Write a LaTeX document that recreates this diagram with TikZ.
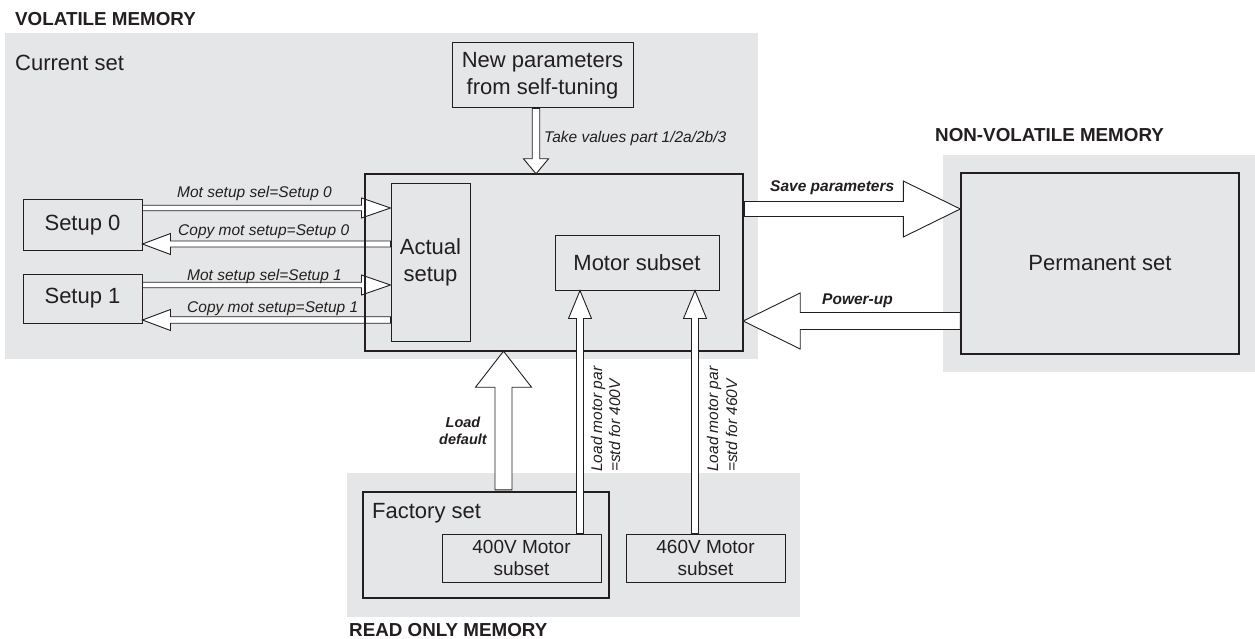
\documentclass[tikz,border=0pt]{standalone}
\usepackage{fontspec}
\setmainfont{Liberation Sans}
\usetikzlibrary{calc}
\definecolor{bg}{HTML}{E5E6E7}
\definecolor{linec}{HTML}{231F20}
\definecolor{txt}{HTML}{231F20}

% horizontal block arrow: #1 start, #2 end (only x used), #3 shaft half width, #4 head half width, #5 head length
\newcommand\hbarrow[5]{%
  \draw[barrow] let \p1=#1, \p2=#2, \n1={(\x2>\x1)?1:-1} in
    (\x1,{\y1+#3pt}) -- ({\x2-(\n1)*#5pt},{\y1+#3pt}) -- ({\x2-(\n1)*#5pt},{\y1+#4pt}) -- (\x2,\y1)
    -- ({\x2-(\n1)*#5pt},{\y1-#4pt}) -- ({\x2-(\n1)*#5pt},{\y1-#3pt}) -- (\x1,{\y1-#3pt}) -- cycle;}
% vertical block arrow
\newcommand\vbarrow[5]{%
  \draw[barrow] let \p1=#1, \p2=#2, \n1={(\y2>\y1)?1:-1} in
    ({\x1+#3pt},\y1) -- ({\x1+#3pt},{\y2-(\n1)*#5pt}) -- ({\x1+#4pt},{\y2-(\n1)*#5pt}) -- (\x1,\y2)
    -- ({\x1-#4pt},{\y2-(\n1)*#5pt}) -- ({\x1-#3pt},{\y2-(\n1)*#5pt}) -- ({\x1-#3pt},\y1) -- cycle;}

\begin{document}
\begin{tikzpicture}[x=1pt,y=-1pt,
  box/.style={draw=linec, line width=1pt, fill=bg, inner sep=0pt, text=txt,
              font=\fontsize{22}{27}\selectfont, align=center},
  thickbox/.style={box, line width=2.2pt},
  smallbox/.style={box, font=\fontsize{19}{21.5}\selectfont},
  big/.style={font=\fontsize{22}{27}\selectfont, text=txt, inner sep=0pt},
  head/.style={font=\fontsize{18.8}{22}\selectfont\bfseries, text=txt, inner sep=0pt},
  lab/.style={font=\fontsize{15.5}{18}\selectfont\itshape, text=txt, inner sep=0pt},
  blab/.style={font=\fontsize{15.5}{18}\selectfont\bfseries\itshape, text=txt, inner sep=0pt},
  sblab/.style={font=\fontsize{14.5}{17}\selectfont\bfseries\itshape, text=txt, inner sep=0pt},
  barrow/.style={draw=linec, fill=white, line width=0.9pt, line join=miter}]
\useasboundingbox (0,0) rectangle (1255,639);
\fill[white] (0,0) rectangle (1255,639);
% memory regions
\fill[bg] (5,33) rectangle (758,359);
\fill[bg] (943,155) rectangle (1255,372);
\fill[bg] (347,473) rectangle (800,617);
\node[head, anchor=base west] (hvol) at (15,26) {VOLATILE MEMORY};
\node[head, anchor=base west] (hnv) at (935,142) {NON-VOLATILE MEMORY};
\node[head, anchor=base west] (hrom) at (349,636) {READ ONLY MEMORY};
\node[big, anchor=base west] (cur) at (15,71) {Current set};

% boxes
\node[box, minimum width=181pt, minimum height=65pt] (newp) at (542.5,75.5) {New parameters\\from self-tuning};
\node[box, minimum width=79pt, minimum height=157pt] (actual) at (430.5,262.5) {Actual\\setup};
\node[box, minimum width=164pt, minimum height=55pt] (motor) at (637,262.5) {Motor subset};
\node[box, minimum width=119pt, minimum height=50pt] (setup0) at (82.5,225) {Setup 0};
\node[box, minimum width=119pt, minimum height=49pt] (setup1) at (82.5,298.5) {Setup 1};
\node[box, line width=1.4pt, minimum width=278pt, minimum height=181pt] (perm) at (1100,263.5) {Permanent set};
\node[thickbox, minimum width=246pt, minimum height=106pt] (factory) at (486,545) {};
\node[big, anchor=base west] (factlbl) at (372,518) {Factory set};
\node[smallbox, minimum width=159pt, minimum height=48pt] (m400) at (521.5,558) {400V Motor\\subset};
\node[smallbox, minimum width=159pt, minimum height=48pt] (m460) at (705.5,558) {460V Motor\\subset};
\node[minimum width=378pt, minimum height=177pt, inner sep=0pt] (main) at (554,262.5) {};

% setup arrows
\hbarrow{($(setup0.east)+(0,-17)$)}{(actual.west)}{2.75}{10}{29}
\hbarrow{($(actual.west)+(0,-18.5)$)}{(setup0.east)}{3}{10.5}{28}
\hbarrow{($(setup1.east)+(0,-13.5)$)}{(actual.west)}{2.75}{10}{29}
\hbarrow{($(actual.west)+(0,57.5)$)}{(setup1.east)}{3.25}{10.5}{28}

% main box border
\draw[draw=linec, line width=2.2pt] (main.north west) rectangle (main.south east);

% other arrows
\vbarrow{($(newp.south)+(-6.5,0)$)}{(main.north)}{3.75}{12.5}{15}
\hbarrow{($(main.east)+(1.1,-53.5)$)}{(perm.west)}{7.5}{28}{57}
\hbarrow{($(perm.west)+(0,57.5)$)}{(main.east)}{8.5}{28}{57}
\vbarrow{($(factory.north)+(17.5,-1.1)$)}{(main.south)}{8.5}{28}{36}
\vbarrow{($(m400.north)+(58.5,0)$)}{(motor.south)}{3.5}{11.5}{28}
\vbarrow{($(m460.north)+(-10.5,0)$)}{(motor.south)}{3.5}{11.5}{28}

% labels
\node[lab, anchor=base west] (lsel0) at (177,198) {Mot setup sel=Setup 0};
\node[lab, anchor=base west] (lcopy0) at (178,236) {Copy mot setup=Setup 0};
\node[lab, anchor=base west] (lsel1) at (187,280) {Mot setup sel=Setup 1};
\node[lab, anchor=base west] (lcopy1) at (187,312) {Copy mot setup=Setup 1};
\node[lab, anchor=base west] (ltake) at (544,143) {Take values part 1/2a/2b/3};
\node[blab, anchor=base west] (lsave) at (770,192) {Save parameters};
\node[blab, anchor=base west] (lpower) at (822,304) {Power-up};
\node[sblab, anchor=base] (lload1) at (463,427) {Load};
\node[sblab, anchor=base] (lload2) at (463,444) {default};
\node[lab, rotate=90, anchor=base west] (l400a) at (602,472) {Load motor par};
\node[lab, rotate=90, anchor=base west] (l400b) at (620,472) {=std for 400V};
\node[lab, rotate=90, anchor=base west] (l460a) at (718,472) {Load motor par};
\node[lab, rotate=90, anchor=base west] (l460b) at (737,472) {=std for 460V};
\end{tikzpicture}
\end{document}
